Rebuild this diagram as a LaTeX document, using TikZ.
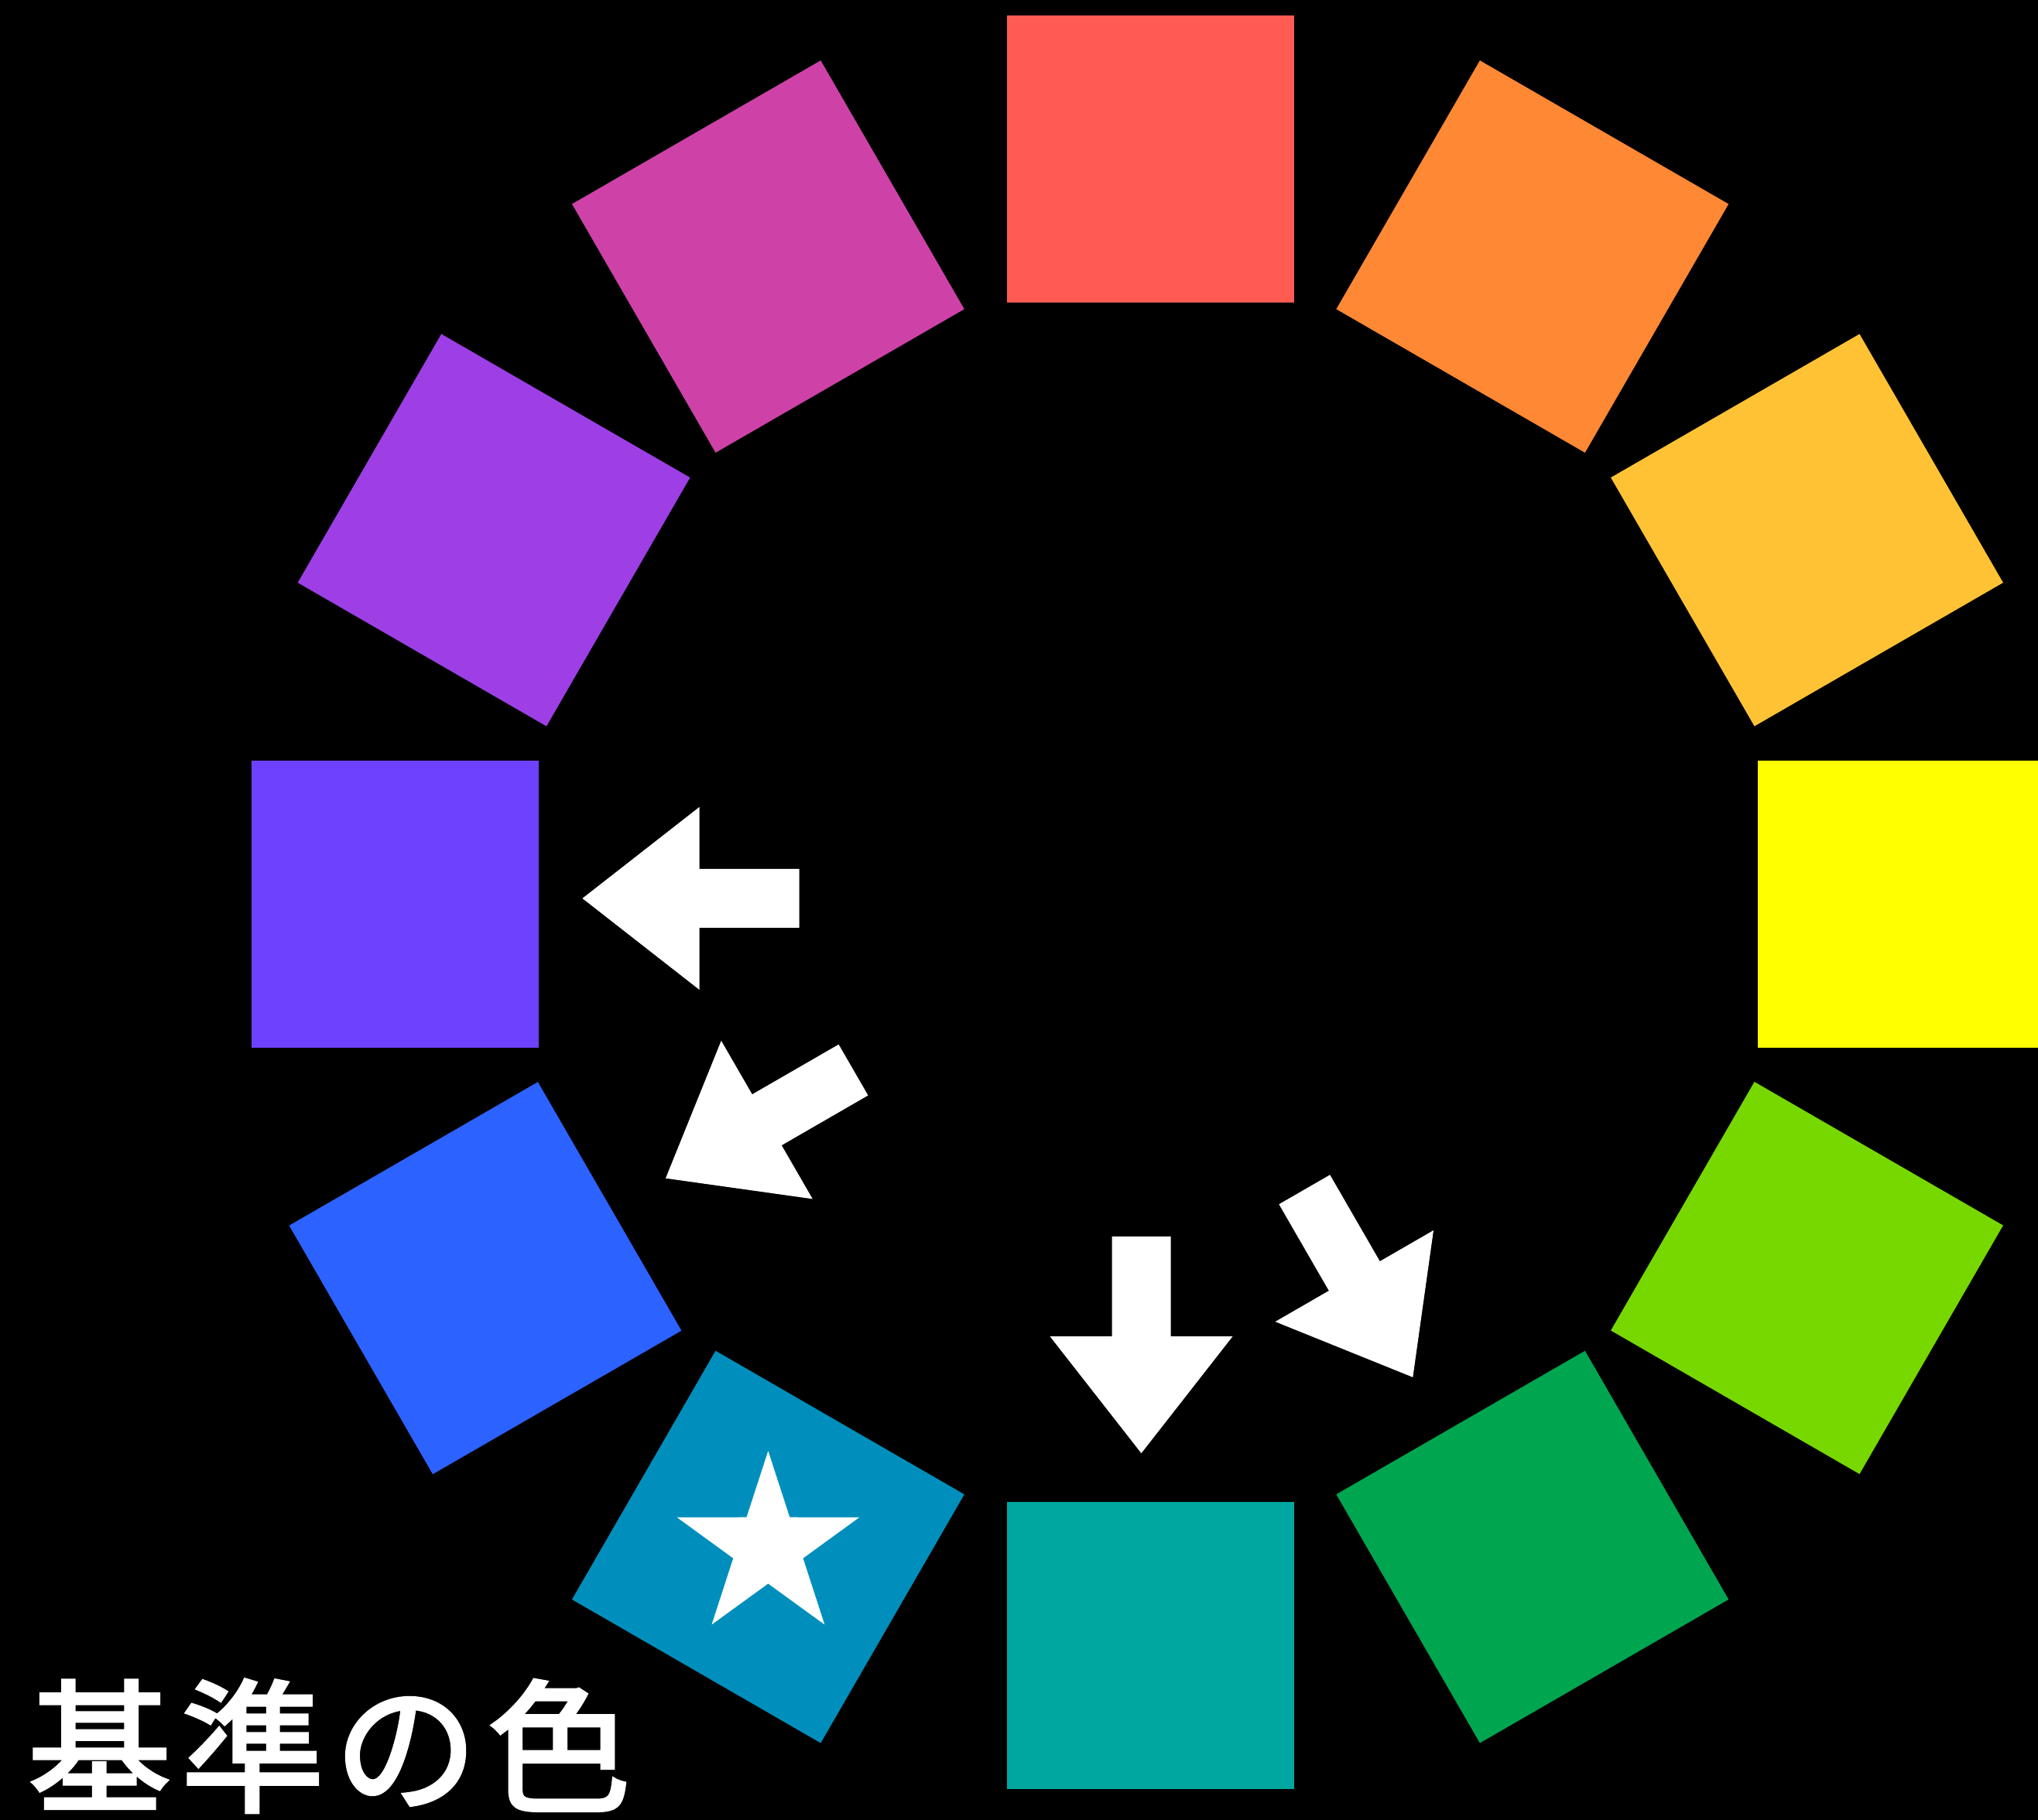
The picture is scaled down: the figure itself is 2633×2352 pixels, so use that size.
\documentclass[tikz,border=0pt]{standalone}
\usepackage{fontspec}
\newfontfamily\jpfont[FakeBold=2.5,LetterSpace=7]{Noto Sans CJK JP}
\definecolor{hueA}{HTML}{FF5B52}
\definecolor{hueB}{HTML}{FF8834}
\definecolor{hueC}{HTML}{FFC234}
\definecolor{hueD}{HTML}{FFFF00}
\definecolor{hueE}{HTML}{77D800}
\definecolor{hueF}{HTML}{00A550}
\definecolor{hueG}{HTML}{00A7A0}
\definecolor{hueH}{HTML}{008FBC}
\definecolor{hueI}{HTML}{2C62FF}
\definecolor{hueJ}{HTML}{6E41FF}
\definecolor{hueK}{HTML}{9E3FE6}
\definecolor{hueL}{HTML}{CE42A8}
\begin{document}
\begin{tikzpicture}[x=1pt,y=1pt,
  swatch/.style={draw=none,inner sep=0,minimum size=371pt,rotate=#1},
  pointer/.style={white,shift={(#1)}}]
\fill[black] (0,0) rectangle (2633,2352);
\useasboundingbox (0,0) rectangle (2633,2352);
\foreach \name/\x/\y/\a/\c in {sqA/1486.5/2146.5/0/hueA,sqB/1979.8/2020.4/60/hueB,
  sqC/2334.5/1666.9/30/hueC,sqD/2456.5/1183.5/0/hueD,sqE/2334.5/700.5/-30/hueE,
  sqF/1979.8/352.9/-60/hueF,sqG/1486.5/225.7/0/hueG,sqH/992.4/352.9/60/hueH,
  sqI/627/700.3/30/hueI,sqJ/510.5/1183.7/0/hueJ,sqK/638.1/1666.9/-30/hueK,
  sqL/992.4/2020.4/-60/hueL}
  \node[swatch=\a,fill=\c] (\name) at (\x,\y) {};
\fill[white,shift={(sqH.center)}] (90:124) -- (126:47.4) -- (162:124) -- (198:47.4)
  -- (234:124) -- (270:47.4) -- (306:124) -- (342:47.4) -- (18:124) -- (54:47.4) -- cycle;
\coordinate (tipJ) at (752.5,1191);
\coordinate (tipI) at (860,829.3);
\coordinate (tipG) at (1474.5,474);
\coordinate (tipF) at (1825.3,572.2);
\foreach \t/\ang in {tipJ/180,tipI/210,tipG/270,tipF/300}
  \fill[pointer=\t,rotate=\ang] (0,0) -- (-151,118) -- (-151,38) -- (-280,38)
    -- (-280,-38) -- (-151,-38) -- (-151,-118) -- cycle;
\node[anchor=base west,inner sep=0,text=white,font=\jpfont\fontsize{185}{185}\selectfont]
  (title) at (36,25) {基準の色};
\end{tikzpicture}
\end{document}
